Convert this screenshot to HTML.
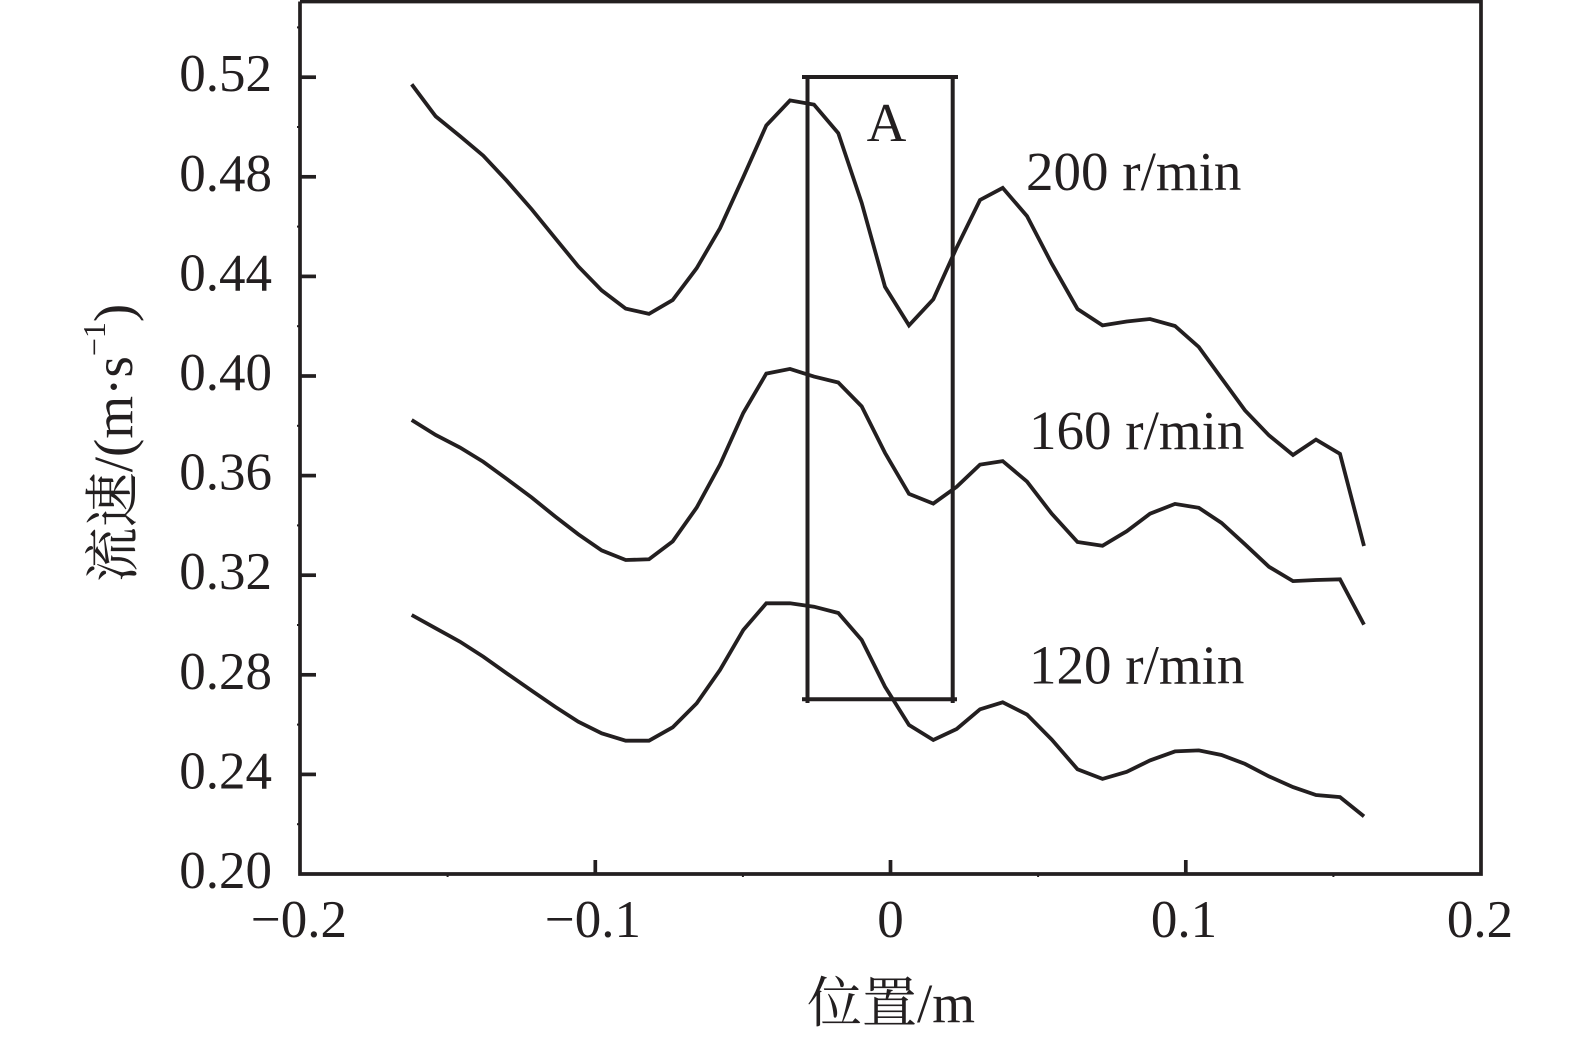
<!DOCTYPE html>
<html>
<head>
<meta charset="utf-8">
<style>
  html,body{margin:0;padding:0;background:#fff;}
  svg{display:block;}
  text{font-family:"Liberation Serif","Noto Serif CJK SC",serif;fill:#231f20;}
</style>
</head>
<body>
<svg width="1575" height="1040" viewBox="0 0 1575 1040" xmlns="http://www.w3.org/2000/svg">
  <rect x="0" y="0" width="1575" height="1040" fill="#fff"/>
  <!-- frame -->
  <g stroke="#231f20" stroke-width="3.7" fill="none">
    <polyline points="300,1.5 1481,1.5 1481,874 300,874 300,1.5" stroke-linejoin="miter"/>
    <!-- y major ticks -->
    <line x1="300" y1="774.4" x2="316" y2="774.4"/>
    <line x1="300" y1="674.8" x2="316" y2="674.8"/>
    <line x1="300" y1="575.2" x2="316" y2="575.2"/>
    <line x1="300" y1="475.6" x2="316" y2="475.6"/>
    <line x1="300" y1="376" x2="316" y2="376"/>
    <line x1="300" y1="276.4" x2="316" y2="276.4"/>
    <line x1="300" y1="176.8" x2="316" y2="176.8"/>
    <line x1="300" y1="77.2" x2="316" y2="77.2"/>
    <!-- x major ticks -->
    <line x1="595.3" y1="874" x2="595.3" y2="860"/>
    <line x1="890.5" y1="874" x2="890.5" y2="860"/>
    <line x1="1185.8" y1="874" x2="1185.8" y2="860"/>
  </g>
  <g stroke="#231f20" stroke-width="2" fill="none">
    <!-- minor ticks -->
    <line x1="297" y1="824.2" x2="300" y2="824.2"/>
    <line x1="297" y1="724.6" x2="300" y2="724.6"/>
    <line x1="297" y1="625" x2="300" y2="625"/>
    <line x1="297" y1="525.4" x2="300" y2="525.4"/>
    <line x1="297" y1="425.8" x2="300" y2="425.8"/>
    <line x1="297" y1="326.2" x2="300" y2="326.2"/>
    <line x1="297" y1="226.6" x2="300" y2="226.6"/>
    <line x1="297" y1="127" x2="300" y2="127"/>
    <line x1="297" y1="27.4" x2="300" y2="27.4"/>
    <line x1="447.6" y1="874" x2="447.6" y2="877"/>
    <line x1="742.9" y1="874" x2="742.9" y2="877"/>
    <line x1="1038.1" y1="874" x2="1038.1" y2="877"/>
    <line x1="1333.4" y1="874" x2="1333.4" y2="877"/>
  </g>

  <!-- y tick labels -->
  <g font-size="53" text-anchor="end">
    <text x="272" y="888">0.20</text>
    <text x="272" y="788.4">0.24</text>
    <text x="272" y="688.8">0.28</text>
    <text x="272" y="589.2">0.32</text>
    <text x="272" y="489.6">0.36</text>
    <text x="272" y="390">0.40</text>
    <text x="272" y="290.4">0.44</text>
    <text x="272" y="190.8">0.48</text>
    <text x="272" y="91.2">0.52</text>
  </g>
  <!-- x tick labels -->
  <g font-size="53" text-anchor="middle">
    <text x="299" y="937">−0.2</text>
    <text x="593" y="937">−0.1</text>
    <text x="890.5" y="937">0</text>
    <text x="1184" y="937">0.1</text>
    <text x="1480" y="937">0.2</text>
  </g>

  <!-- axis titles -->
  <text x="891" y="1022" font-size="55" text-anchor="middle">位置/m</text>
  <text x="132" y="443" font-size="55" text-anchor="middle" transform="rotate(-90 132 443)">流速/(m·s<tspan font-size="32" dy="-27">−1</tspan><tspan dy="27">)</tspan></text>

  <!-- box A -->
  <g stroke="#231f20" stroke-width="4" fill="none">
    <line x1="802" y1="77" x2="958" y2="77"/>
    <line x1="802" y1="699.3" x2="957" y2="699.3"/>
    <line x1="807.5" y1="75" x2="807.5" y2="703"/>
    <line x1="952.7" y1="75" x2="952.7" y2="703"/>
  </g>
  <text x="886.5" y="141" font-size="55" text-anchor="middle">A</text>

  <!-- curve labels -->
  <g font-size="55">
    <text x="1026" y="190">200 r/min</text>
    <text x="1029" y="449">160 r/min</text>
    <text x="1029" y="683.5">120 r/min</text>
  </g>

  <!-- curves -->
  <g stroke="#231f20" stroke-width="3.8" fill="none" stroke-linejoin="miter" stroke-miterlimit="4">
    <polyline points="411.7,84.3 435.7,116.4 460,136.1 483.3,155.7 506.7,180.7 531.7,209.3 555,237.9 578.3,266.4 601.7,290.4 625.7,308.6 649,313.9 672.7,300 696.7,268.2 720,228.2 743.3,177.1 766.3,125.4 790,100.4 814,104.6 838.3,133.2 861.7,202.9 885,286.8 909,325.4 933.3,299.3 956.7,247.5 980,200 1002.7,187.9 1027,216.1 1051.7,263.6 1077.5,309 1102.5,325.4 1126.7,321.5 1150,319 1175,326 1198.8,347 1221.5,378.2 1245,410.4 1269,435.4 1293,455 1316,439.6 1340,453.9 1364,546"/>
    <polyline points="411.7,420 435.7,435 460,447.5 483.3,461.8 506.7,478.9 531.7,497.5 555,516.4 578.3,534.3 601.7,550.4 625.7,560 649,559.3 672.7,541.4 696.7,507.5 720,464.6 743.3,412.9 766.3,373.6 790,368.9 814,376.6 838.3,382.5 861.7,406.4 885,452.9 909,493.9 933.3,503.6 956.7,486.8 980,464.6 1002.7,461.1 1027,481.6 1051.7,513.7 1077.5,542 1102.5,545.8 1126.7,531.3 1150,513.7 1175,503.9 1198.8,507.8 1221.5,522.9 1245,544.3 1269,566.8 1293,581.1 1316,580 1340,579.3 1364,624.6"/>
    <polyline points="411.7,615 435.7,628.3 460,641.7 483.3,656.7 506.7,673.3 531.7,690.7 555,706.7 578.3,721.7 601.7,733.3 625.7,740.7 649,740.7 672.7,727.3 696.7,703.3 720,670 743.3,630 766.3,603.3 790,603.3 814,606.7 838.3,613 861.7,640 885,686.7 909,725 933.3,740 956.7,729 980,709.3 1002.7,702.3 1027,714.5 1051.7,739.5 1077.5,769.3 1102.5,778.9 1126.7,771.8 1150,760.4 1175,751.4 1198.8,750.4 1221.5,755 1245,763.9 1269,776.4 1293,787.1 1316,795 1340,797.1 1364,816.4"/>
  </g>
</svg>
</body>
</html>
